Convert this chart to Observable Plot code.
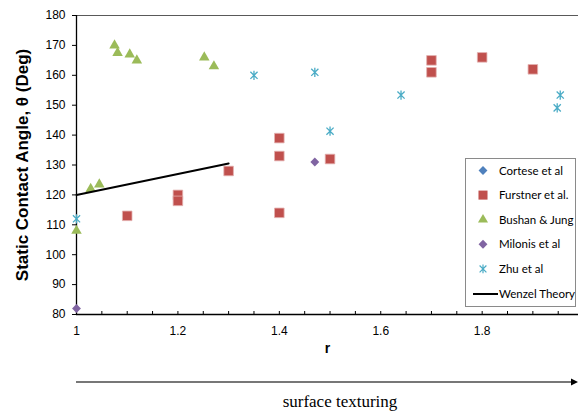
<!DOCTYPE html>
<html>
<head>
<meta charset="utf-8">
<script src="https://cdn.jsdelivr.net/npm/d3@7"></script>
<script src="https://cdn.jsdelivr.net/npm/@observablehq/plot@0.6"></script>
<style>
  body { margin: 0; background: #fff; }
  #chart { position: relative; width: 579px; height: 417px; font-family: "Liberation Sans", Arial, sans-serif; }
  #legend { position: absolute; left: 465px; top: 158px; }
  #below { position: absolute; left: 0; top: 365px; }
</style>
</head>
<body>
<div id="chart"></div>
<script>
// Axis extents and ticks
const xDomain = [1, 1.99];
const yDomain = [80, 180];
const xLabelTicks = [1, 1.2, 1.4, 1.6, 1.8];
const xMinorTicks = [1, 1.05, 1.1, 1.15, 1.2, 1.25, 1.3, 1.35, 1.4, 1.45, 1.5, 1.55, 1.6, 1.65, 1.7, 1.75, 1.8, 1.85, 1.9, 1.95];
const yTicks = [80, 90, 100, 110, 120, 130, 140, 150, 160, 170, 180];

// Series: roughness factor r and static contact angle (deg)
const seriesNames = ["Cortese et al", "Furstner et al.", "Bushan & Jung", "Milonis et al", "Zhu et al", "Wenzel Theory"];
const seriesColors = ["#4F81BD", "#C0504D", "#9BBB59", "#8064A2", "#4BACC6", "#000000"];

const corteseR = [];
const corteseAngle = [];

const furstnerR = [1.1, 1.2, 1.2, 1.3, 1.4, 1.4, 1.4, 1.5, 1.7, 1.7, 1.8, 1.9];
const furstnerAngle = [113, 120, 118, 128, 139, 133, 114, 132, 165, 161, 166, 162];

const bushanR = [1.0, 1.028, 1.045, 1.075, 1.081, 1.105, 1.119, 1.252, 1.271];
const bushanAngle = [108, 122, 123.5, 170, 167.5, 167, 165, 166, 163];

const milonisR = [1.0, 1.47];
const milonisAngle = [82, 131];

const zhuR = [1.0, 1.35, 1.47, 1.5, 1.64, 1.954, 1.948];
const zhuAngle = [112, 160, 161, 141.3, 153.4, 153.4, 149.1];

const wenzelR = [1.0, 1.3];
const wenzelAngle = [120, 130.5];

const yTitle = "Static Contact Angle, θ (Deg)";
const xTitle = "r";
const arrowText = "surface texturing";

const rows = (rs, as) => rs.map((r, i) => ({r, angle: as[i]}));
const cortese = rows(corteseR, corteseAngle);
const furstner = rows(furstnerR, furstnerAngle);
const bushan = rows(bushanR, bushanAngle);
const milonis = rows(milonisR, milonisAngle);
const zhu = rows(zhuR, zhuAngle);
const wenzel = rows(wenzelR, wenzelAngle);

// Star marker: vertical bar crossed by an X
const starSymbol = {
  draw(context, size) {
    const r = Math.sqrt(size / Math.PI);
    const d = r * 0.78;
    context.moveTo(0, -r); context.lineTo(0, r);
    context.moveTo(-d, -d); context.lineTo(d, d);
    context.moveTo(-d, d); context.lineTo(d, -d);
  }
};

const plot = Plot.plot({
  width: 579,
  height: 365,
  marginTop: 15,
  marginLeft: 76,
  marginRight: 1,
  marginBottom: 51,
  style: {fontFamily: "'Liberation Sans', Arial, sans-serif", fontSize: "12px", color: "#000", background: "transparent", overflow: "visible"},
  x: {domain: xDomain},
  y: {domain: yDomain},
  marks: [
    Plot.ruleY([yDomain[1]], {stroke: "#595959", strokeWidth: 1.2}),
    Plot.tickX(xMinorTicks, {x: d => d, insetTop: 296, stroke: "#000"}),
    Plot.axisX(xLabelTicks, {tickSize: 0, tickPadding: 12, tickFormat: d => String(d), label: null, fontSize: 12}),
    Plot.axisY(yTicks, {tickSize: 4, tickPadding: 7, label: null, fontSize: 12}),
    Plot.ruleX([xDomain[0]], {stroke: "#000", strokeWidth: 1.3}),
    Plot.ruleY([yDomain[0]], {stroke: "#000", strokeWidth: 1.3}),
    Plot.dot(cortese, {x: "r", y: "angle", symbol: "diamond2", r: 4, fill: seriesColors[0]}),
    Plot.dot(furstner, {x: "r", y: "angle", symbol: "square", r: 5.4, fill: seriesColors[1], stroke: "#e3b1b0", strokeWidth: 0.8}),
    Plot.dot(bushan, {x: "r", y: "angle", symbol: "triangle", r: 3.9, fill: seriesColors[2]}),
    Plot.dot(milonis, {x: "r", y: "angle", symbol: "diamond2", r: 4, fill: seriesColors[3]}),
    Plot.dot(zhu, {x: "r", y: "angle", symbol: starSymbol, r: 4.6, fill: "none", stroke: seriesColors[4], strokeWidth: 1.3}),
    Plot.line(wenzel, {x: "r", y: "angle", stroke: seriesColors[5], strokeWidth: 2}),
    Plot.text([yTitle], {text: d => d, frameAnchor: "left", textAnchor: "middle", rotate: -90, dx: -54, fontWeight: "bold", fontSize: 17}),
    Plot.text([xTitle], {text: d => d, frameAnchor: "bottom", dy: 38, fontWeight: "bold", fontSize: 14})
  ]
});

const chart = document.getElementById("chart");
chart.appendChild(plot);

// Legend box inside the plot area
const legendW = 110, legendH = 148, rowGap = 24.6, firstRow = 12.5;
const legend = d3.create("svg").attr("id", "legend").attr("width", legendW + 1).attr("height", legendH + 1);
legend.append("rect").attr("x", 0.5).attr("y", 0.5).attr("width", legendW).attr("height", legendH)
  .attr("fill", "#fff").attr("stroke", "#8a8a8a").attr("stroke-width", 1);
const legendSymbols = [d3.symbolDiamond2, d3.symbolSquare, d3.symbolTriangle, d3.symbolDiamond2, starSymbol, null];
const legendSizes = [Math.PI * 16, Math.PI * 26, Math.PI * 14, Math.PI * 16, Math.PI * 19, 0];
seriesNames.forEach((name, i) => {
  const g = legend.append("g").attr("transform", `translate(0,${firstRow + i * rowGap})`);
  if (legendSymbols[i] === null) {
    g.append("line").attr("x1", 8).attr("x2", 33).attr("y1", 0.5).attr("y2", 0.5)
      .attr("stroke", seriesColors[i]).attr("stroke-width", 2);
  } else if (legendSymbols[i] === starSymbol) {
    g.append("path").attr("transform", "translate(18,0)")
      .attr("d", d3.symbol(starSymbol, legendSizes[i])())
      .attr("fill", "none").attr("stroke", seriesColors[i]).attr("stroke-width", 1.2);
  } else {
    g.append("path").attr("transform", "translate(18,0)")
      .attr("d", d3.symbol(legendSymbols[i], legendSizes[i])())
      .attr("fill", seriesColors[i]);
  }
  g.append("text").attr("x", 34).attr("y", 0).attr("dy", "0.35em")
    .attr("font-family", "Lato, 'Liberation Sans', Arial, sans-serif")
    .attr("font-size", 11.5).attr("fill", "#000").text(name);
});
chart.appendChild(legend.node());

// Arrow and caption under the axis
const below = d3.create("svg").attr("id", "below").attr("width", 579).attr("height", 52);
below.append("line").attr("x1", 76).attr("x2", 572).attr("y1", 17).attr("y2", 17)
  .attr("stroke", "#777").attr("stroke-width", 2);
below.append("path").attr("d", "M571,13.5L578,17L571,20.5Z").attr("fill", "#000");
below.append("text").attr("x", 340).attr("y", 42).attr("text-anchor", "middle")
  .attr("font-family", "'Liberation Serif', 'Times New Roman', serif").attr("font-size", 17)
  .attr("fill", "#000").text(arrowText);
chart.appendChild(below.node());
</script>
</body>
</html>
